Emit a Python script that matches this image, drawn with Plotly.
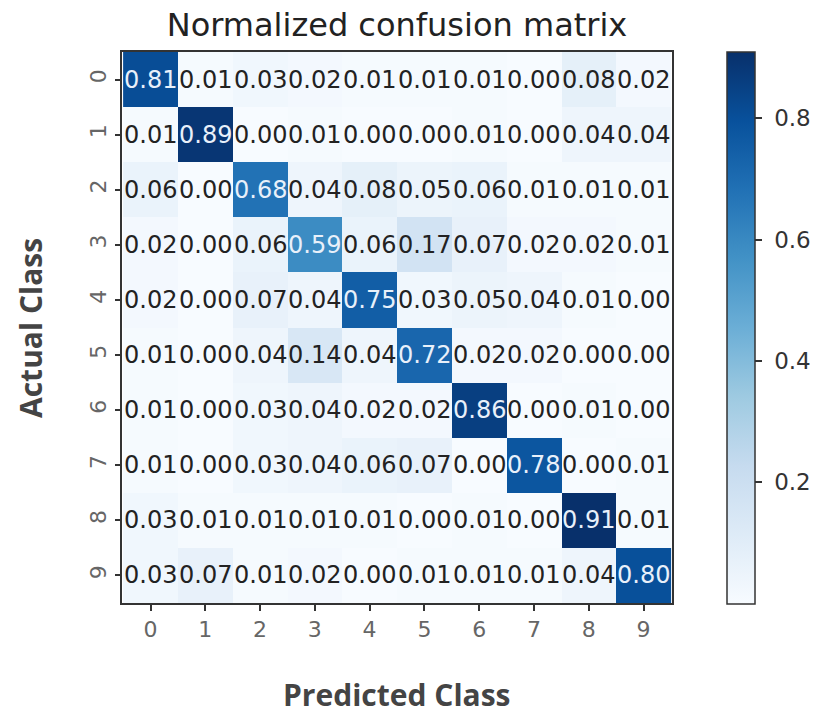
import plotly.graph_objects as go

classes = ["0", "1", "2", "3", "4", "5", "6", "7", "8", "9"]
cm = [
    [0.81, 0.01, 0.03, 0.02, 0.01, 0.01, 0.01, 0.00, 0.08, 0.02],
    [0.01, 0.89, 0.00, 0.01, 0.00, 0.00, 0.01, 0.00, 0.04, 0.04],
    [0.06, 0.00, 0.68, 0.04, 0.08, 0.05, 0.06, 0.01, 0.01, 0.01],
    [0.02, 0.00, 0.06, 0.59, 0.06, 0.17, 0.07, 0.02, 0.02, 0.01],
    [0.02, 0.00, 0.07, 0.04, 0.75, 0.03, 0.05, 0.04, 0.01, 0.00],
    [0.01, 0.00, 0.04, 0.14, 0.04, 0.72, 0.02, 0.02, 0.00, 0.00],
    [0.01, 0.00, 0.03, 0.04, 0.02, 0.02, 0.86, 0.00, 0.01, 0.00],
    [0.01, 0.00, 0.03, 0.04, 0.06, 0.07, 0.00, 0.78, 0.00, 0.01],
    [0.03, 0.01, 0.01, 0.01, 0.01, 0.00, 0.01, 0.00, 0.91, 0.01],
    [0.03, 0.07, 0.01, 0.02, 0.00, 0.01, 0.01, 0.01, 0.04, 0.80],
]
colorbar_ticks = [0.2, 0.4, 0.6, 0.8]

blues = [
    [0.0, "rgb(247,251,255)"], [0.125, "rgb(222,235,247)"], [0.25, "rgb(198,219,239)"],
    [0.375, "rgb(158,202,225)"], [0.5, "rgb(107,174,214)"], [0.625, "rgb(66,146,198)"],
    [0.75, "rgb(33,113,181)"], [0.875, "rgb(8,81,156)"], [1.0, "rgb(8,48,107)"],
]

W, H = 817, 716
L, R, T, B = 122, 145, 52, 113
pw, ph = W - L - R, H - T - B

zmax = max(max(r) for r in cm)
thresh = zmax / 2

fig = go.Figure(go.Heatmap(
    z=cm, x=classes, y=classes, colorscale=blues, zmin=0, zmax=zmax,
    hoverinfo="skip",
    colorbar=dict(
        x=(727 - L) / pw, xref="paper", xanchor="left", thickness=28, xpad=0, ypad=0,
        len=ph + 1, lenmode="pixels", y=0.5, yanchor="middle",
        outlinecolor="#333", outlinewidth=1.5,
        tickvals=colorbar_ticks, ticktext=["\u00a0" + f"{t:.1f}" for t in colorbar_ticks],
        ticks="outside", ticklen=7, tickcolor="#333", tickwidth=1.5,
        tickfont=dict(family="DejaVu Sans", size=23, color="#333"),
    ),
))

annotations = []
for i, row in enumerate(cm):
    for j, v in enumerate(row):
        annotations.append(dict(
            x=classes[j], y=classes[i], text=f"{v:.2f}", showarrow=False,
            font=dict(family="DejaVu Sans", size=24,
                      color="#e8f0fa" if v > thresh else "#222"),
        ))

annotations.append(dict(
    text="<b>Predicted Class</b>", xref="paper", yref="paper",
    x=0.5, y=-(694 - (T + ph)) / ph, xanchor="center", yanchor="middle", showarrow=False,
    font=dict(family="Open Sans", size=30, color="#444"),
))
annotations.append(dict(
    text="<b>Actual Class</b>", xref="paper", yref="paper", textangle=-90,
    x=-(L - 30) / pw, y=1 - (328 - T) / ph, xanchor="center", yanchor="middle", showarrow=False,
    font=dict(family="Open Sans", size=30, color="#444"),
))

fig.update_layout(
    width=W, height=H,
    margin=dict(l=L, r=R, t=T, b=B, autoexpand=False),
    paper_bgcolor="white", plot_bgcolor="white",
    title=dict(text="Normalized confusion matrix", x=(L + pw / 2) / W, xanchor="center",
               y=1 - 25 / H, yanchor="middle",
               font=dict(family="DejaVu Sans", size=32, color="#222")),
    annotations=annotations,
    xaxis=dict(
        tickvals=classes, ticks="outside", ticklen=6, tickcolor="#333", tickwidth=1.5,
        tickfont=dict(family="DejaVu Sans", size=22, color="#666"),
        showline=True, linecolor="#333", linewidth=1.5, mirror=True,
        showgrid=False, zeroline=False, automargin=False,
    ),
    yaxis=dict(
        tickvals=classes, autorange="reversed", ticks="outside", ticklen=5, tickcolor="#333",
        tickwidth=1.5, tickangle=-90,
        tickfont=dict(family="DejaVu Sans", size=22, color="#666"),
        showline=True, linecolor="#333", linewidth=1.5, mirror=True,
        showgrid=False, zeroline=False, automargin=False,
    ),
)

fig.write_html("out.html", config={"displayModeBar": False},
               post_script="document.body.style.margin='0px';")
